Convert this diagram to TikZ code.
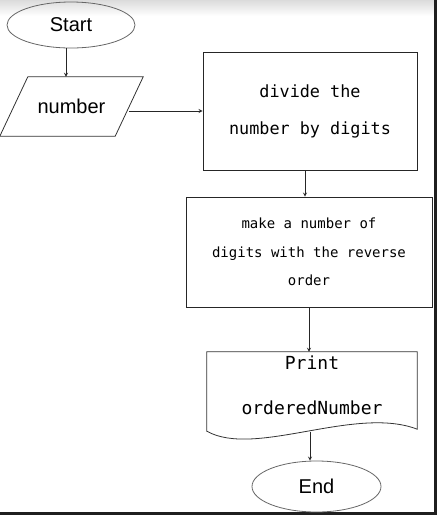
\documentclass[tikz,border=0pt]{standalone}
\usepackage{fontspec}
\usetikzlibrary{positioning, arrows, shapes.geometric, calc}
\newfontfamily\labelfont{Liberation Sans}
\newfontfamily\codefont{DejaVu Sans Mono}
\tikzset{
    terminal/.style={ellipse, draw=black!60, line width=0.8pt, inner sep=0pt,
      minimum width=128pt, minimum height=46pt, font=\labelfont\fontsize{20}{24}\selectfont},
    inout/.style={rectangle, inner sep=0pt, minimum width=115pt, minimum height=59pt,
      font=\labelfont\fontsize{20}{24}\selectfont},
    process/.style={rectangle, draw=black!85, line width=0.8pt, align=center, inner sep=0pt},
    doc/.style={rectangle, align=center, inner sep=0pt, font=\codefont\fontsize{18}{21}\selectfont},
    outline/.style={draw=black!80, line width=0.8pt},
    flow/.style={->, >=stealth, draw=black!85, line width=0.8pt},
}

\begin{document}
\begin{tikzpicture}[x=1pt, y=-1pt]
    \useasboundingbox (0,0) rectangle (437,515);
    \shade[top color=black!14, bottom color=white] (0,0) rectangle (434,16);
    \fill[black!88] (434,0) rectangle (437,515);
    \fill[black!88] (0,512) rectangle (437,515);

    \node[terminal] (start) at (71,25) {Start};
    \node[inout] (number) at (71.5,106.5) {number};
    \draw[outline] ($(number.south west)+(-14,0)$) -- ($(number.north west)+(14,0)$)
      -- ($(number.north east)+(14,0)$) -- ($(number.south east)+(-14,0)$) -- cycle;
    \node[process, minimum width=214pt, minimum height=118pt,
      font=\codefont\fontsize{16.8}{20}\selectfont] (divide) at (310,111)
      {divide the\\[17pt]number by digits};
    \node[process, minimum width=246pt, minimum height=110pt,
      font=\codefont\fontsize{14}{17}\selectfont] (reverse) at (309,252)
      {make a number of\\[11.5pt]digits with the reverse\\[11.5pt]order};
    \node[doc, minimum width=210pt, minimum height=67pt] (print) at (312,385.5)
      {Print\\[24pt]orderedNumber};
    \draw[outline] (print.north west) -- (print.north east)
      -- ($(print.south east)+(0,10)$)
      .. controls ($(print.south east)+(-62,-14)$) and ($(print.south west)+(48,39)$)
      .. ($(print.south west)+(0,12)$) -- cycle;
    \coordinate (wave) at ($(print.south)+(-2,13)$);
    \node[terminal, minimum width=129pt, minimum height=51pt] (finish) at (316.5,486.5) {End};

    \draw[flow] ([xshift=-5pt]start.south) -- ([xshift=-5pt]start.south |- number.north);
    \draw[flow] (number.east |- divide.west) -- (divide.west);
    \draw[flow] ([xshift=-5pt]divide.south) -- ([xshift=-5pt]divide.south |- reverse.north);
    \draw[flow] (reverse.south) -- (reverse.south |- print.north);
    \draw[flow] (wave) -- (wave |- finish.north);
\end{tikzpicture}
\end{document}
